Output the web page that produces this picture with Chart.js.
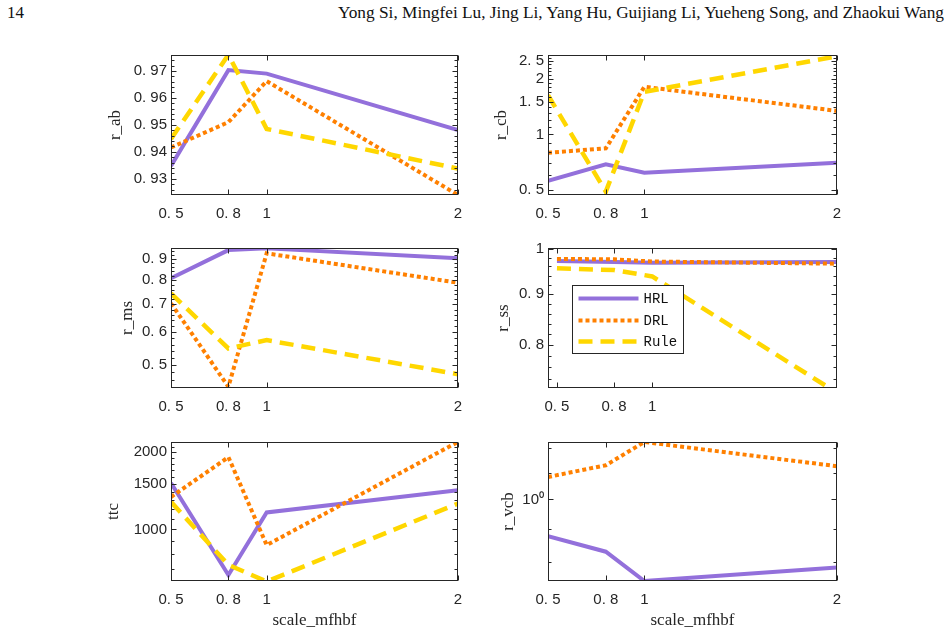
<!DOCTYPE html>
<html lang="en">
<head>
<meta charset="UTF-8">
<title>scale_mfhbf sweep</title>
<script src="https://cdn.jsdelivr.net/npm/chart.js"></script>
<style>
    body {
        margin: 0;
        width: 952px;
        height: 630px;
        overflow: hidden;
        position: relative;
        background: #fff;
        font-family: "Liberation Serif", serif;
        color: #111;
    }
    .page-num { position: absolute; left: 7px; top: 3px; font-size: 17px; }
    .authors { position: absolute; right: 8px; top: 3px; font-size: 17.3px; }
    canvas { position: absolute; }
</style>
</head>
<body>
<div class="page-num">14</div>
<div class="authors">Yong Si, Mingfei Lu, Jing Li, Yang Hu, Guijiang Li, Yueheng Song, and Zhaokui Wang</div>

<canvas id="rab"></canvas>
<canvas id="rcb"></canvas>
<canvas id="rms"></canvas>
<canvas id="rss"></canvas>
<canvas id="ttc"></canvas>
<canvas id="rvcb"></canvas>

<script>
    // x values shared by all panels
    const xValues = [0.5, 0.8, 1, 2];
    const xTicks = [0.5, 0.8, 1, 2];
    const xTickLabels = ['0. 5', '0. 8', '1', '2'];

    // r_ab
    const rabHRL = [0.9348, 0.9703, 0.9690, 0.9481];
    const rabDRL = [0.9416, 0.9510, 0.9662, 0.9240];
    const rabRule = [0.9448, 0.9760, 0.9485, 0.9338];
    const rabTicks = [0.93, 0.94, 0.95, 0.96, 0.97];
    const rabTickLabels = ['0. 93', '0. 94', '0. 95', '0. 96', '0. 97'];

    // r_cb
    const rcbHRL = [0.561, 0.689, 0.621, 0.703];
    const rcbDRL = [0.796, 0.840, 1.81, 1.34];
    const rcbRule = [1.63, 0.49, 1.70, 2.65];
    const rcbTicks = [0.5, 1, 1.5, 2, 2.5];
    const rcbTickLabels = ['0. 5', '1', '1. 5', '2', '2. 5'];

    // r_ms
    const rmsHRL = [0.809, 0.946, 0.955, 0.904];
    const rmsDRL = [0.704, 0.443, 0.929, 0.789];
    const rmsRule = [0.744, 0.548, 0.574, 0.475];
    const rmsTicks = [0.5, 0.6, 0.7, 0.8, 0.9];
    const rmsTickLabels = ['0. 5', '0. 6', '0. 7', '0. 8', '0. 9'];

    // r_ss
    const rssHRL = [0.972, 0.970, 0.968, 0.970];
    const rssDRL = [0.977, 0.976, 0.971, 0.966];
    const rssRule = [0.956, 0.952, 0.938, 0.710];
    const rssTicks = [0.8, 0.9, 1];
    const rssTickLabels = ['0. 8', '0. 9', '1'];

    // ttc
    const ttcHRL = [1516, 665, 1164, 1420];
    const ttcDRL = [1337, 1911, 869, 2190];
    const ttcRule = [1280, 728, 627, 1261];
    const ttcTicks = [1000, 1500, 2000];
    const ttcTickLabels = ['1000', '1500', '2000'];

    // r_vcb (no Rule line in this panel)
    const rvcbHRL = [0.878, 0.831, 0.749, 0.786];
    const rvcbDRL = [1.083, 1.129, 1.226, 1.125];
    const rvcbTicks = [1];
    const rvcbTickLabels = ['10\u2070'];

    const lineStyles = {
        HRL: { color: '#9370DB', width: 4, dash: [], order: 2 },
        DRL: { color: '#FF8000', width: 4, dash: [4, 3], order: 1 },
        Rule: { color: '#FFD700', width: 4.5, dash: [14, 8], order: 0 }
    };

    Chart.defaults.font.family = '"Liberation Sans", Arial, sans-serif';
    Chart.defaults.font.size = 15;
    Chart.defaults.color = '#262626';

    function range(lo, hi, step) {
        const out = [];
        for (let v = lo; v <= hi + step / 2; v += step) out.push(+v.toFixed(6));
        return out;
    }

    // box, inward ticks and the legend, MATLAB style
    const framePlugin = {
        id: 'frame',
        afterDraw(chart, args, opts) {
            const { ctx, chartArea: a, scales: { x, y } } = chart;
            const L = Math.round(a.left) + 0.5, R = Math.round(a.right) - 0.5;
            const T = Math.round(a.top) + 0.5, B = Math.round(a.bottom) - 0.5;
            ctx.save();
            ctx.strokeStyle = '#262626';
            ctx.lineWidth = 1;
            ctx.beginPath();
            x.ticks.forEach(t => {
                const px = Math.round(x.getPixelForValue(t.value)) + 0.5;
                ctx.moveTo(px, B); ctx.lineTo(px, B - 5);
                ctx.moveTo(px, T); ctx.lineTo(px, T + 5);
            });
            y.ticks.forEach(t => {
                const py = Math.round(y.getPixelForValue(t.value)) + 0.5;
                ctx.moveTo(L, py); ctx.lineTo(L + 5, py);
                ctx.moveTo(R, py); ctx.lineTo(R - 5, py);
            });
            (opts.minor || []).forEach(v => {
                if (v <= y.min || v >= y.max) return;
                const py = Math.round(y.getPixelForValue(v)) + 0.5;
                ctx.moveTo(L, py); ctx.lineTo(L + 3, py);
                ctx.moveTo(R, py); ctx.lineTo(R - 3, py);
            });
            ctx.stroke();
            ctx.strokeRect(L, T, R - L, B - T);

            if (opts.legend) {
                const g = opts.legend;
                const lx = Math.round(a.left + g.dx) + 0.5, ly = Math.round(a.top + g.dy) + 0.5;
                ctx.fillStyle = '#fff';
                ctx.fillRect(lx, ly, g.w, g.h);
                ctx.strokeRect(lx, ly, g.w, g.h);
                ctx.font = '14px "Liberation Mono", monospace';
                ctx.textBaseline = 'middle';
                chart.data.datasets.forEach((ds, i) => {
                    const cy = ly + g.rows[i];
                    ctx.strokeStyle = ds.borderColor;
                    ctx.lineWidth = ds.borderWidth;
                    ctx.setLineDash(ds.borderDash);
                    ctx.beginPath();
                    ctx.moveTo(lx + 6, cy);
                    ctx.lineTo(lx + 66, cy);
                    ctx.stroke();
                    ctx.setLineDash([]);
                    ctx.fillStyle = '#111';
                    ctx.fillText(ds.label, lx + 71, cy + 1);
                });
            }
            ctx.restore();
        }
    };

    function makePanel(p) {
        const canvas = document.getElementById(p.id);
        canvas.width = p.w + 90;
        canvas.height = p.h + 10 + 52;
        canvas.style.left = (p.left - 80) + 'px';
        canvas.style.top = (p.top - 10) + 'px';

        const datasets = Object.keys(p.series).map(name => ({
            label: name,
            data: xValues.map((xv, i) => ({ x: xv, y: p.series[name][i] })),
            borderColor: lineStyles[name].color,
            borderWidth: lineStyles[name].width,
            borderDash: lineStyles[name].dash,
            order: lineStyles[name].order,
            pointRadius: 0,
            tension: 0,
            clip: 0
        }));

        new Chart(canvas, {
            type: 'line',
            data: { datasets },
            plugins: [framePlugin],
            options: {
                responsive: false,
                animation: false,
                devicePixelRatio: 1,
                layout: { padding: { top: 10, right: 10, left: 0, bottom: 0 }, autoPadding: false },
                plugins: {
                    legend: { display: false },
                    tooltip: { enabled: false },
                    frame: { minor: p.minor, legend: p.legend }
                },
                scales: {
                    x: {
                        type: 'linear',
                        bounds: 'data',
                        min: p.xMin,
                        max: p.xMax,
                        grid: { display: false, drawTicks: false },
                        border: { display: false },
                        // fixed size, no extra room for overhanging labels
                        afterFit: s => { s.height = 52; s.paddingLeft = 0; s.paddingRight = 0; },
                        afterBuildTicks: s => {
                            s.ticks = xTicks.filter(v => v >= s.min && v <= s.max).map(v => ({ value: v }));
                        },
                        ticks: {
                            maxRotation: 0,
                            padding: 10,
                            callback: v => xTickLabels[xTicks.indexOf(v)]
                        },
                        title: {
                            display: p.xTitle,
                            text: 'scale_mfhbf',
                            font: { family: '"Liberation Serif", serif', size: 17 },
                            padding: { top: 0, bottom: 2 }
                        }
                    },
                    y: {
                        type: p.yType,
                        bounds: 'data',
                        min: p.yMin,
                        max: p.yMax,
                        grid: { display: false, drawTicks: false },
                        border: { display: false },
                        afterFit: s => { s.width = 80; s.paddingTop = 0; s.paddingBottom = 0; },
                        afterBuildTicks: s => {
                            s.ticks = p.ticks.map(v => ({ value: v }));
                        },
                        ticks: {
                            padding: 4,
                            callback: v => p.tickLabels[p.ticks.indexOf(v)]
                        },
                        title: {
                            display: true,
                            text: p.title,
                            font: { family: '"Liberation Serif", serif', size: 17 },
                            padding: { top: p.titlePad, bottom: 0 }
                        }
                    }
                }
            }
        });
    }

    makePanel({
        id: 'rab', title: 'r_ab', left: 171, top: 55, w: 287, h: 140, titlePad: 14,
        xMin: 0.5, xMax: 2, yType: 'linear', yMin: 0.924, yMax: 0.9759,
        ticks: rabTicks, tickLabels: rabTickLabels, minor: range(0.924, 0.976, 0.002),
        series: { HRL: rabHRL, DRL: rabDRL, Rule: rabRule }
    });
    makePanel({
        id: 'rcb', title: 'r_cb', left: 548, top: 55, w: 289, h: 140, titlePad: 23.5,
        xMin: 0.5, xMax: 2, yType: 'logarithmic', yMin: 0.47, yMax: 2.69,
        ticks: rcbTicks, tickLabels: rcbTickLabels, minor: range(0.5, 2.6, 0.1),
        series: { HRL: rcbHRL, DRL: rcbDRL, Rule: rcbRule }
    });
    makePanel({
        id: 'rms', title: 'r_ms', left: 171, top: 248, w: 287, h: 140, titlePad: 26,
        xMin: 0.5, xMax: 2, yType: 'logarithmic', yMin: 0.44, yMax: 0.957,
        ticks: rmsTicks, tickLabels: rmsTickLabels, minor: range(0.44, 0.96, 0.02),
        series: { HRL: rmsHRL, DRL: rmsDRL, Rule: rmsRule }
    });
    makePanel({
        id: 'rss', title: 'r_ss', left: 548, top: 248, w: 289, h: 140, titlePad: 25,
        xMin: 0.453, xMax: 1.97, yType: 'logarithmic', yMin: 0.724, yMax: 1.002,
        ticks: rssTicks, tickLabels: rssTickLabels, minor: range(0.72, 1.0, 0.02),
        legend: { dx: 24, dy: 37, w: 111, h: 68, rows: [13, 35, 56] },
        series: { HRL: rssHRL, DRL: rssDRL, Rule: rssRule }
    });
    makePanel({
        id: 'ttc', title: 'ttc', left: 171, top: 442, w: 287, h: 139, titlePad: 12, xTitle: true,
        xMin: 0.5, xMax: 2, yType: 'logarithmic', yMin: 630, yMax: 2188,
        ticks: ttcTicks, tickLabels: ttcTickLabels, minor: range(700, 2100, 100),
        series: { HRL: ttcHRL, DRL: ttcDRL, Rule: ttcRule }
    });
    makePanel({
        id: 'rvcb', title: 'r_vcb', left: 548, top: 442, w: 289, h: 139, titlePad: 30, xTitle: true,
        xMin: 0.5, xMax: 2, yType: 'logarithmic', yMin: 0.749, yMax: 1.226,
        ticks: rvcbTicks, tickLabels: rvcbTickLabels, minor: [0.8, 0.9, 1.1, 1.2],
        series: { HRL: rvcbHRL, DRL: rvcbDRL }
    });
</script>
</body>
</html>
